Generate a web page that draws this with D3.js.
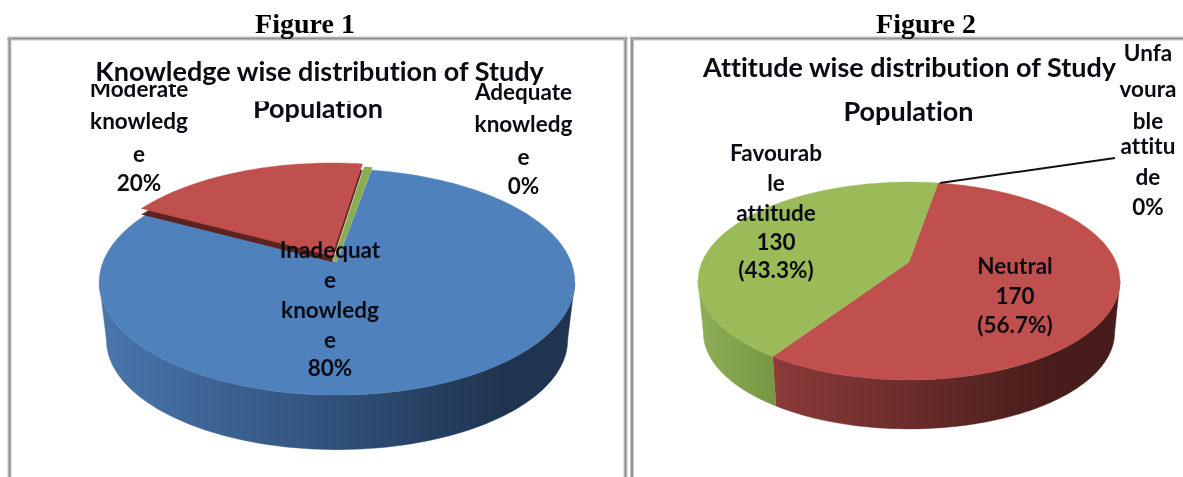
<!DOCTYPE html>
<html><head><meta charset="utf-8">
<script src="https://cdn.jsdelivr.net/npm/d3@7"></script>
<style>
html,body{margin:0;padding:0;background:#fff;overflow:hidden}
svg{display:block;filter:blur(0.45px)}
text{font-variant-ligatures:none}
.fig{font-family:"Liberation Serif",serif;font-weight:700;font-size:28px;fill:#000;text-anchor:middle}
.ttl{font-family:Lato,"Open Sans",sans-serif;font-weight:700;font-size:27px;fill:#0b0b14;text-anchor:middle}
.lab{font-family:Lato,"Open Sans",sans-serif;font-weight:700;font-size:22.5px;fill:#0b0b14;text-anchor:middle}
</style></head><body>
<script>
// ---- data ----
const fig1Names  = ["Inadequate knowledge","Moderate knowledge","Adequate knowledge"];
const fig1Values = [240, 59, 1];
const fig2Names  = ["Neutral","Favourable attitude","Unfavourable attitude"];
const fig2Values = [170, 130, 0];
const fig1Labels = [["Inadequat","e","knowledg","e","80%"],["Moderate","knowledg","e","20%"],["Adequate","knowledg","e","0%"]];
const fig2Labels = [["Neutral","170","(56.7%)"],["Favourab","le","attitude","130","(43.3%)"],["Unfa","voura","ble","attitu","de","0%"]];
const headings   = ["Figure 1","Figure 2"];
const fig1Title  = ["Knowledge wise distribution of Study","Population"];
const fig2Title  = ["Attitude wise distribution of Study","Population"];

const W=1183,H=477,rad=Math.PI/180;
const svg=d3.select("body").append("svg").attr("width",W).attr("height",H);
const defs=svg.append("defs");
svg.append("rect").attr("width",W).attr("height",H).attr("fill","#fff");

function grad(id,x0,x1,stops){
  const g=defs.append("linearGradient").attr("id",id).attr("gradientUnits","userSpaceOnUse")
    .attr("x1",x0).attr("x2",x1).attr("y1",0).attr("y2",0);
  stops.forEach(s=>g.append("stop").attr("offset",s[0]).attr("stop-color",s[1]));
  return `url(#${id})`;
}
function clip(id,x,y,w,h){defs.append("clipPath").attr("id",id).append("rect").attr("x",x).attr("y",y).attr("width",w).attr("height",h);}

// frames
function rule(x1,y1,x2,y2){
  svg.append("line").attr("x1",x1).attr("y1",y1).attr("x2",x2).attr("y2",y2).attr("stroke","#c4c4c4").attr("stroke-width",4);
  svg.append("line").attr("x1",x1).attr("y1",y1).attr("x2",x2).attr("y2",y2).attr("stroke","#8c8c8c").attr("stroke-width",1.6);
}
rule(7.5,38.5,627.5,38.5); rule(9.5,38.5,9.5,H+5); rule(625.5,38.5,625.5,H+5);
rule(630,38.5,W+5,38.5);   rule(632,38.5,632,H+5);

function makeProj(o){
  const top=(t)=>{const u=Math.sin(t),v=-Math.cos(t),w=1-o.p*v;return [o.cx+o.A*u/w,o.ay+o.B*v/w];};
  const bot=(t)=>{const q=top(t);return [o.ex+(q[0]-o.ex)*o.s,o.ey+(q[1]-o.ey)*o.s+o.d];};
  return {top,bot};
}
const line=d3.line();
function samples(a,b){const n=Math.max(2,Math.ceil((b-a)/(rad*1.5)));return d3.range(n+1).map(i=>a+(b-a)*i/n);}

function drawPie(values,o,fills,walls,explode){
  const P=makeProj(o);
  const arcs=d3.pie().sort(null).startAngle(o.start*rad).endAngle((o.start+360)*rad)(values);
  const vis0=Math.acos(-o.p),vis1=2*Math.PI-vis0;
  arcs.forEach((d,i)=>{
    const a=Math.max(d.startAngle,vis0),b=Math.min(d.endAngle,vis1);
    if(b<=a||d.value===0)return;
    const s=samples(a,b);
    svg.append("path").attr("d",line(s.map(P.top).concat(s.slice().reverse().map(P.bot)))+"Z")
      .attr("fill",walls[i]).attr("stroke",walls[i]).attr("stroke-width",.4);
  });
  const rank=e=>!e?0:(e.under?2:1);
  const order=arcs.map((d,i)=>i).sort((a,b)=>rank(explode[a])-rank(explode[b]));
  order.forEach(i=>{
    const d=arcs[i]; if(d.value===0)return;
    const pts=[[o.cx,o.ay]].concat(samples(d.startAngle,d.endAngle).map(P.top));
    const e=explode[i];
    const g=svg.append("g").attr("transform",e?`translate(${e.dx},${e.dy})`:null);
    if(e&&e.under) g.append("path").attr("d",line(pts)+"Z").attr("transform",`translate(0,${e.under})`).attr("fill","#5d2321");
    g.append("path").attr("d",line(pts)+"Z").attr("fill",fills[i]).attr("stroke",fills[i])
      .attr("stroke-width",e&&e.width?e.width:.4);
  });
}

const blue="#4f81bd",red="#c0504d",green="#9bbb59";
const gBlue=grad("gb",100,575,[[0,"#4a76ac"],[.5,"#30507a"],[.85,"#1f3450"],[1,"#1f3450"]]);
const gRed =grad("gr",698,1120,[[0,"#a04542"],[.2,"#8a3a38"],[.55,"#652a28"],[.85,"#471c1a"],[1,"#471c1a"]]);
const gGreen=grad("gg",698,790,[[0,"#8eae56"],[.85,"#779644"],[1,"#779644"]]);

drawPie(fig1Values,{cx:337,ay:262,A:234,B:109.5,p:.177,ex:338,ey:282,s:.97,d:58,start:10},
  [blue,red,"#8aab4e"],[gBlue,"#000","#000"],[null,{dx:-5,dy:-6,under:6},{dx:-2,dy:-1,width:4}]);
drawPie(fig2Values,{cx:909,ay:262,A:207,B:95.3,p:.192,ex:909,ey:281,s:.975,d:51.5,start:9.6},
  [red,green,red],[gRed,gGreen,"#000"],[null,null,null]);

// leader line
svg.append("line").attr("x1",940).attr("y1",183).attr("x2",1115).attr("y2",158).attr("stroke","#111").attr("stroke-width",2);

// clip regions for the cut-off text
clip("cTitle",240,101.5,160,40);
clip("cMod",60,84,160,30);

function texts(lines,cls,cx,ys,clipId){
  lines.forEach((t,i)=>{
    const el=svg.append("text").attr("class",cls).attr("x",cx).attr("y",ys[i]).text(t);
    if(clipId&&clipId[i])el.attr("clip-path",`url(#${clipId[i]})`);
  });
}
texts([headings[0]],"fig",305,[33]);
texts([headings[1]],"fig",926,[33]);
texts([fig1Title[0]],"ttl",319.5,[81]);
texts([fig1Title[1]],"ttl",318,[118],["cTitle"]);
texts([fig2Title[0]],"ttl",909.5,[77]);
texts([fig2Title[1]],"ttl",908.5,[121]);

texts(fig1Labels[0],"lab",330,[258,288,318,348,376]);
texts(fig1Labels[1],"lab",139,[97,129,162,191],["cMod"]);
texts(fig1Labels[2],"lab",523.5,[100,132,165,194]);
texts(fig2Labels[0],"lab",1015,[274,304,333]);
texts(fig2Labels[1],"lab",776,[161,191,221,250,278]);
texts(fig2Labels[2],"lab",1148,[61,97,129,154,185,215]);
</script>
</body></html>
